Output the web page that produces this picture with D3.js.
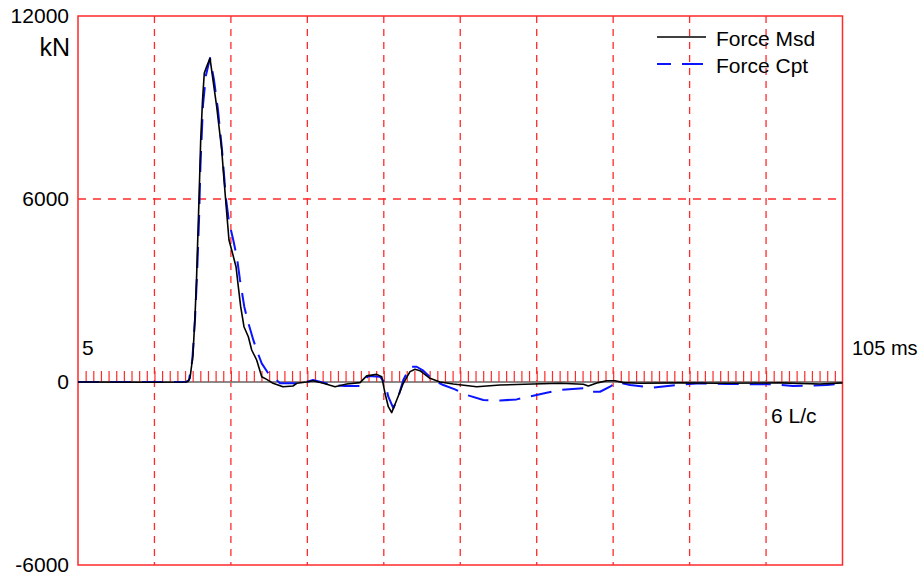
<!DOCTYPE html>
<html>
<head>
<meta charset="utf-8">
<script src="https://cdn.jsdelivr.net/npm/d3@7"></script>
<style>
  html, body { margin: 0; padding: 0; background: #fff; }
  svg { display: block; }
  text { font-family: Arial, "Liberation Sans", sans-serif; fill: #000; }
</style>
</head>
<body>
<svg id="chart" width="924" height="578"></svg>
<script>
// Time in ms, force in kN
const yTickValues = [-6000, 0, 6000, 12000];
const gridTimes = [15, 25, 35, 45, 55, 65, 75, 85, 95];
const minorTimes = d3.range(6, 105, 1);

const msdTime = [5, 14.4, 19.1, 19.4, 19.65, 20.04, 20.3, 20.5, 20.66, 20.83, 21.05, 21.29, 21.52, 21.83, 22.27, 22.66, 23.14, 23.8, 24.1, 24.53, 24.75, 25.1, 25.67, 25.97, 26.28, 26.71, 27.28, 27.72, 28.37, 29.03, 29.68, 30.51, 31.81, 33.12, 33.61, 34.92, 35.74, 37.09, 38.62, 40.15, 41.89, 42.76, 44.07, 44.73, 45.16, 45.59, 46.03, 46.69, 47.55, 48.43, 49.08, 49.73, 51.04, 52.35, 54.09, 57.15, 60.2, 64.52, 68.05, 71.1, 71.75, 73.06, 74.16, 75.24, 76.33, 78.51, 83.75, 88.98, 96.83, 102.06, 105];
const msdForce = [0, -10, 0, 20, 130, 885, 2140, 3340, 4656, 6000, 7934, 9246, 10130, 10340, 10610, 9900, 9030, 7607, 6623, 5311, 4656, 4328, 3780, 3125, 2470, 1813, 1485, 1049, 721, 174, 85, -43, -154, -131, -43, 0, 40, -43, -154, -65, -20, 200, 250, 174, -370, -810, -1005, -590, -43, 340, 415, 370, 120, 0, -65, -154, -100, -65, -43, -75, -130, -20, 40, 40, -20, -43, -30, -43, -30, -65, -30];

const cptTime = [5, 19.1, 19.52, 19.95, 20.3, 20.57, 20.83, 21.02, 21.35, 21.74, 22.27, 22.79, 23.31, 23.84, 24.36, 24.75, 25.31, 25.8, 26.19, 26.75, 27.24, 27.93, 28.37, 29.03, 29.89, 30.99, 31.42, 33.65, 34.92, 35.74, 38.35, 39.92, 41.89, 42.32, 42.97, 44.5, 45.16, 45.59, 46.24, 46.9, 47.55, 48.43, 49.3, 50.17, 51.48, 52.78, 54.31, 55.84, 58.02, 60.2, 62.38, 66.31, 68.05, 71.1, 71.71, 73.28, 74.59, 75.47, 77.21, 80.26, 84.18, 86.36, 89.85, 95.91, 98.53, 102.93, 105];
const cptForce = [0, 0, 65, 720, 2030, 3500, 5300, 7100, 9080, 10060, 10620, 9900, 8920, 7607, 6000, 5250, 4656, 4066, 3344, 2470, 1970, 1380, 1049, 610, 285, 65, -43, -43, 0, 65, -100, -130, -130, 0, 200, 175, -43, -480, -860, -480, 65, 500, 500, 370, 65, -100, -240, -426, -590, -610, -570, -350, -260, -207, -320, -320, -154, 0, -100, -180, -75, -43, -65, -75, -130, -100, -43];

const seriesNames = ["Force Msd", "Force Cpt"];

const svg = d3.select("#chart");
const plotLeft = 78, plotRight = 842.5, plotTop = 16, plotBottom = 565;
const fontSize = "21px";

const x = d3.scaleLinear().domain([5, 105]).range([plotLeft, plotRight]);
const y = d3.scaleLinear().domain([-6000, 12000]).range([plotBottom, plotTop]);

const red = "#ff2a2a";
const blue = "#0a14ff";
const blueDash = "21,11";

// dashed grid
svg.append("g").selectAll("line").data(gridTimes).join("line")
  .attr("x1", d => x(d)).attr("x2", d => x(d))
  .attr("y1", plotTop).attr("y2", plotBottom)
  .attr("stroke", red).attr("stroke-width", 1.3).attr("stroke-dasharray", "7,6");
svg.append("line")
  .attr("x1", plotLeft).attr("x2", plotRight).attr("y1", y(6000)).attr("y2", y(6000))
  .attr("stroke", red).attr("stroke-width", 1.3).attr("stroke-dasharray", "8,7");

// zero baseline
svg.append("line")
  .attr("x1", plotLeft).attr("x2", plotRight).attr("y1", y(0)).attr("y2", y(0))
  .attr("stroke", "#8a8a8a").attr("stroke-width", 2);

// millisecond ticks on the baseline
const minorAxis = d3.axisTop(x).tickValues(minorTimes).tickSize(11).tickFormat("");
const gm = svg.append("g").attr("transform", `translate(0,${y(0)})`).call(minorAxis);
gm.select(".domain").remove();
gm.selectAll(".tick line").attr("stroke", red).attr("stroke-width", 1.2);

// frame
svg.append("rect")
  .attr("x", plotLeft).attr("y", plotTop).attr("width", plotRight - plotLeft).attr("height", plotBottom - plotTop)
  .attr("fill", "none").attr("stroke", red).attr("stroke-width", 1.5);

// y axis labels (plain hyphen for negatives)
const yAxis = d3.axisLeft(y).tickValues(yTickValues).tickSize(0).tickPadding(9).tickFormat(d => String(d));
const gy = svg.append("g").attr("transform", `translate(${plotLeft},0)`).call(yAxis);
gy.select(".domain").remove();
gy.selectAll("text").style("font-size", fontSize).style("font-family", "Arial, 'Liberation Sans', sans-serif").attr("fill", "#000");

svg.append("text").attr("x", 70).attr("y", 56).attr("text-anchor", "end")
  .style("font-size", "25px").text("kN");
svg.append("text").attr("x", 82).attr("y", 355).style("font-size", fontSize).text("5");
svg.append("text").attr("x", 852).attr("y", 355).style("font-size", "20px").text("105 ms");
svg.append("text").attr("x", 771).attr("y", 423).style("font-size", fontSize).text("6 L/c");

// curves
const line = d3.line().x(d => x(d[0])).y(d => y(d[1]));
const msd = msdTime.map((t, i) => [t, msdForce[i]]);
const cpt = cptTime.map((t, i) => [t, cptForce[i]]);

svg.append("path").datum(cpt).attr("d", line)
  .attr("fill", "none").attr("stroke", blue).attr("stroke-width", 2)
  .attr("stroke-dasharray", blueDash).attr("stroke-linejoin", "round");
svg.append("path").datum(msd).attr("d", line)
  .attr("fill", "none").attr("stroke", "#000").attr("stroke-width", 1.6)
  .attr("stroke-linejoin", "round");

// legend
const legend = svg.append("g");
const styles = [
  { stroke: "#000", width: 1.6, dash: null, offset: 0 },
  { stroke: blue, width: 2, dash: blueDash, offset: 7 }
];
seriesNames.forEach((name, i) => {
  const ly = 37 + i * 27;
  legend.append("line").attr("x1", 657).attr("x2", 706).attr("y1", ly).attr("y2", ly)
    .attr("stroke", styles[i].stroke).attr("stroke-width", styles[i].width)
    .attr("stroke-dasharray", styles[i].dash).attr("stroke-dashoffset", styles[i].offset);
  legend.append("text").attr("x", 716).attr("y", ly + 9).style("font-size", fontSize).text(name);
});
</script>
</body>
</html>
